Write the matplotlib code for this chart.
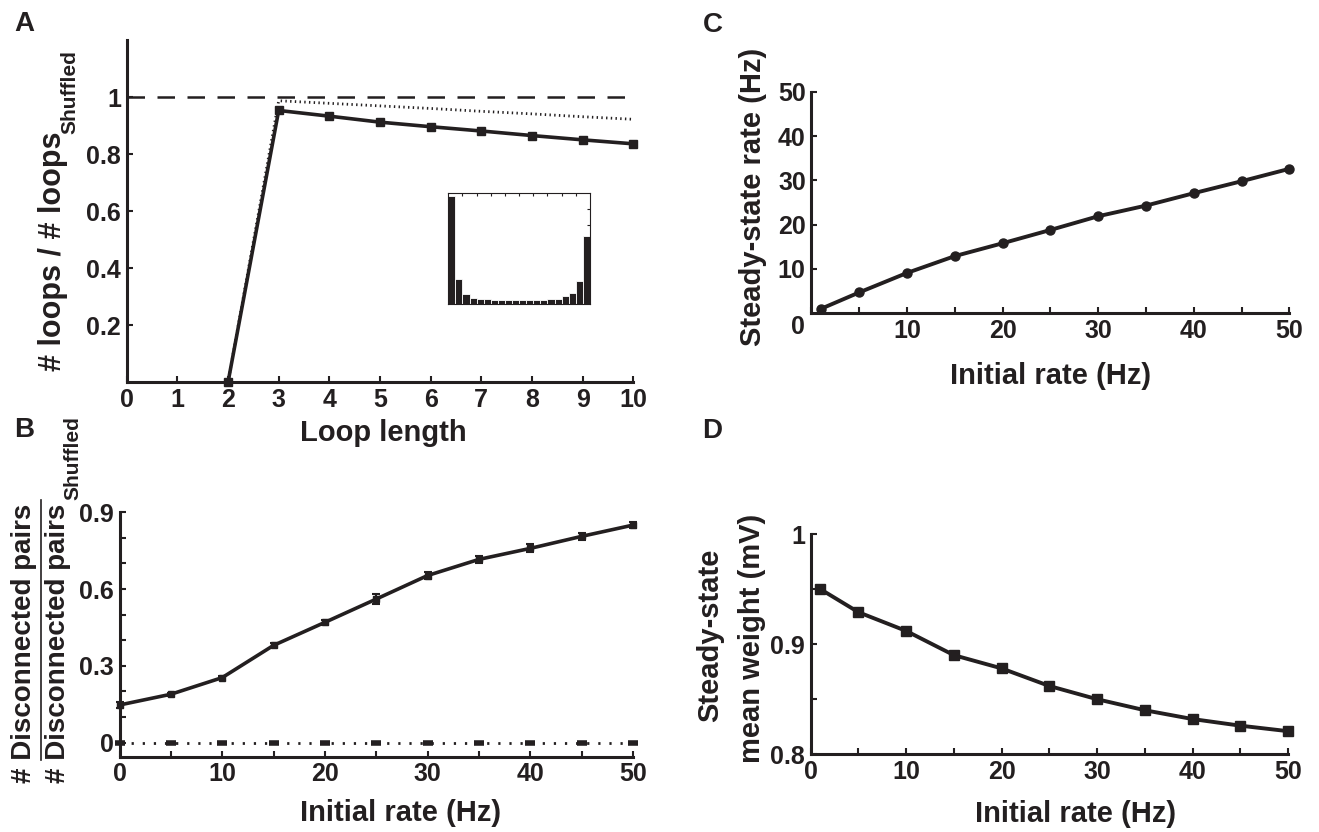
import numpy as np
import matplotlib.pyplot as plt
from matplotlib.lines import Line2D
from matplotlib.ticker import MultipleLocator

plt.rcParams['font.family'] = ['Liberation Sans Narrow', 'Liberation Sans', 'DejaVu Sans']
plt.rcParams['font.weight'] = 'bold'

ink = '#231f20'
W, H = 1319, 832

# ---- data ----
# A: loops relative to shuffled
loop_len = [2, 3, 4, 5, 6, 7, 8, 9, 10]
loop_ratio = [0.0, 0.953, 0.933, 0.912, 0.896, 0.881, 0.865, 0.850, 0.836]
loop_err = [0.0, 0.006, 0.006, 0.006, 0.007, 0.007, 0.008, 0.009, 0.010]
loop_ratio_dot = [0.0, 0.987, 0.978, 0.969, 0.960, 0.950, 0.941, 0.931, 0.922]
loop_ref = [1, 1]
loop_ref_x = [0, 10]

# A inset: histogram (20 bins on [0, 1])
inset_left = np.arange(20) * 0.05
inset_counts = [0.680, 0.155, 0.065, 0.040, 0.034, 0.034, 0.027, 0.027, 0.027, 0.027,
                0.027, 0.027, 0.027, 0.027, 0.034, 0.034, 0.053, 0.070, 0.147, 0.430]

# B: disconnected pairs
rate_b = [0, 5, 10, 15, 20, 25, 30, 35, 40, 45, 50]
disc_ratio = [0.147, 0.189, 0.254, 0.380, 0.470, 0.561, 0.653, 0.716, 0.759, 0.806, 0.850]
disc_err = [0.010, 0.006, 0.006, 0.008, 0.010, 0.018, 0.012, 0.014, 0.016, 0.014, 0.012]
disc_zero = [0, 0, 0, 0, 0, 0, 0, 0, 0, 0, 0]

# C: steady-state rate
rate_c = [1, 5, 10, 15, 20, 25, 30, 35, 40, 45, 50]
steady_rate = [1.0, 4.7, 9.1, 12.9, 15.8, 18.8, 21.9, 24.3, 27.1, 29.8, 32.6]

# D: steady-state mean weight
steady_weight = [0.950, 0.929, 0.912, 0.890, 0.878, 0.862, 0.850, 0.840, 0.832, 0.826, 0.821]

TICK = 18
LAB = 21


def px_axes(fig, l, t, r, b):
    return fig.add_axes([l / W, 1 - b / H, (r - l) / W, (b - t) / H])


def fx(x):
    return x / W


def fy(y):
    return 1 - y / H


def style(ax):
    for s in ['top', 'right']:
        ax.spines[s].set_visible(False)
    for s in ['left', 'bottom']:
        ax.spines[s].set_linewidth(2.2)
        ax.spines[s].set_color(ink)
    ax.tick_params(which='both', direction='in', length=4, width=1.5,
                   colors=ink, labelsize=TICK, pad=4)


fig = plt.figure(figsize=(W / 100, H / 100), dpi=100)

# ---------- A ----------
axA = px_axes(fig, 126.7, 40, 633.3, 382.3)
style(axA)
axA.plot(loop_ref_x, loop_ref, color=ink, lw=1.8, ls=(0, (7, 5)))
axA.plot(loop_len, loop_ratio_dot, color=ink, lw=2.0, ls=(0, (0.5, 1.2)))
axA.errorbar(loop_len, loop_ratio, yerr=loop_err, color=ink, lw=2.6, marker='s', ms=6,
             capsize=2.5, elinewidth=1.5, clip_on=False)
axA.set_xlim(0, 10)
axA.set_ylim(0, 1.2)
axA.set_xticks(range(0, 11))
axA.set_yticks([0.2, 0.4, 0.6, 0.8, 1.0])
axA.set_yticklabels(['0.2', '0.4', '0.6', '0.8', '1'])

# inset
axI = px_axes(fig, 448.3, 193.3, 590, 304)
axI.bar(inset_left, inset_counts, width=0.05, align='edge', color=ink,
        edgecolor='white', linewidth=0.6)
axI.set_xlim(0, 1)
axI.set_ylim(0, 0.7)
axI.set_xticks(np.arange(0.1, 1.0, 0.1))
axI.set_yticks(np.arange(0.1, 0.7, 0.1))
axI.tick_params(top=True, right=True, bottom=False, left=False, direction='in',
                length=2.5, width=0.8, labelbottom=False, labelleft=False, colors=ink)
for s in axI.spines.values():
    s.set_linewidth(0.8)
    s.set_color(ink)

fig.text(fx(383), fy(433), 'Loop length', ha='center', va='center', fontsize=LAB, color=ink)
fig.text(fx(53), fy(371), '# loops / # loops', rotation=90, ha='center', va='bottom',
         fontsize=22, color=ink)
fig.text(fx(70), fy(134), 'Shuffled', rotation=90, ha='center', va='bottom',
         fontsize=15, color=ink)

# ---------- B ----------
axB = px_axes(fig, 119.5, 512.3, 633, 756.7)
style(axB)
axB.plot(rate_b, disc_zero, color=ink, lw=2, ls=(0, (0.8, 3.2)), marker='_', ms=7,
         mew=4, clip_on=False)
axB.errorbar(rate_b, disc_ratio, yerr=disc_err, color=ink, lw=2.6, marker='s', ms=5,
             capsize=3, elinewidth=1.5, capthick=1.5, clip_on=False)
axB.set_xlim(0, 50)
axB.set_ylim(-0.055, 0.9)
axB.set_xticks([0, 10, 20, 30, 40, 50])
axB.xaxis.set_minor_locator(MultipleLocator(5))
axB.set_yticks([0, 0.3, 0.6, 0.9])
axB.set_yticklabels(['0', '0.3', '0.6', '0.9'])
axB.yaxis.set_minor_locator(MultipleLocator(0.1))

fig.text(fx(401), fy(813), 'Initial rate (Hz)', ha='center', va='center', fontsize=LAB, color=ink)
fig.text(fx(24), fy(783), '# Disconnected pairs', rotation=90, ha='center', va='bottom',
         fontsize=20, color=ink)
fig.text(fx(58), fy(783), '# Disconnected pairs', rotation=90, ha='center', va='bottom',
         fontsize=20, color=ink)
fig.text(fx(73), fy(500), 'Shuffled', rotation=90, ha='center', va='bottom',
         fontsize=15, color=ink)
fig.add_artist(Line2D([fx(40.7), fx(40.7)], [fy(760), fy(500)], color=ink, lw=1.2))

# ---------- C ----------
axC = px_axes(fig, 811.3, 91.7, 1289.4, 313.3)
style(axC)
axC.plot(rate_c, steady_rate, color=ink, lw=2.8, marker='o', ms=6.5, clip_on=False)
axC.set_xlim(0, 50)
axC.set_ylim(0, 50)
axC.set_xticks([10, 20, 30, 40, 50])
axC.xaxis.set_minor_locator(MultipleLocator(5))
axC.set_yticks([10, 20, 30, 40, 50])
fig.text(fx(798), fy(327), '0', ha='center', va='center', fontsize=TICK, color=ink)
fig.text(fx(1051), fy(376), 'Initial rate (Hz)', ha='center', va='center', fontsize=LAB, color=ink)
fig.text(fx(753), fy(197), 'Steady-state rate (Hz)', rotation=90, ha='center', va='center',
         fontsize=LAB, color=ink)

# ---------- D ----------
axD = px_axes(fig, 810.7, 534, 1288, 754.3)
style(axD)
axD.plot(rate_c, steady_weight, color=ink, lw=2.8, marker='s', ms=7, clip_on=False)
axD.set_xlim(0, 50)
axD.set_ylim(0.8, 1.0)
axD.set_xticks([0, 10, 20, 30, 40, 50])
axD.xaxis.set_minor_locator(MultipleLocator(5))
axD.set_yticks([0.8, 0.9, 1.0])
axD.set_yticklabels(['0.8', '0.9', '1'])
axD.yaxis.set_minor_locator(MultipleLocator(0.05))
fig.text(fx(1076), fy(814), 'Initial rate (Hz)', ha='center', va='center', fontsize=LAB, color=ink)
fig.text(fx(710), fy(635), 'Steady-state', rotation=90, ha='center', va='center',
         fontsize=LAB, color=ink)
fig.text(fx(752), fy(638), 'mean weight (mV)', rotation=90, ha='center', va='center',
         fontsize=LAB, color=ink)

# panel letters
for letter, (x, y) in zip('ABCD', [(24, 24), (24, 430), (713, 25), (712, 431)]):
    fig.text(fx(x), fy(y), letter, ha='center', va='center', fontsize=20,
             family='Liberation Sans', color=ink)

fig.savefig('out.png', dpi=100)
